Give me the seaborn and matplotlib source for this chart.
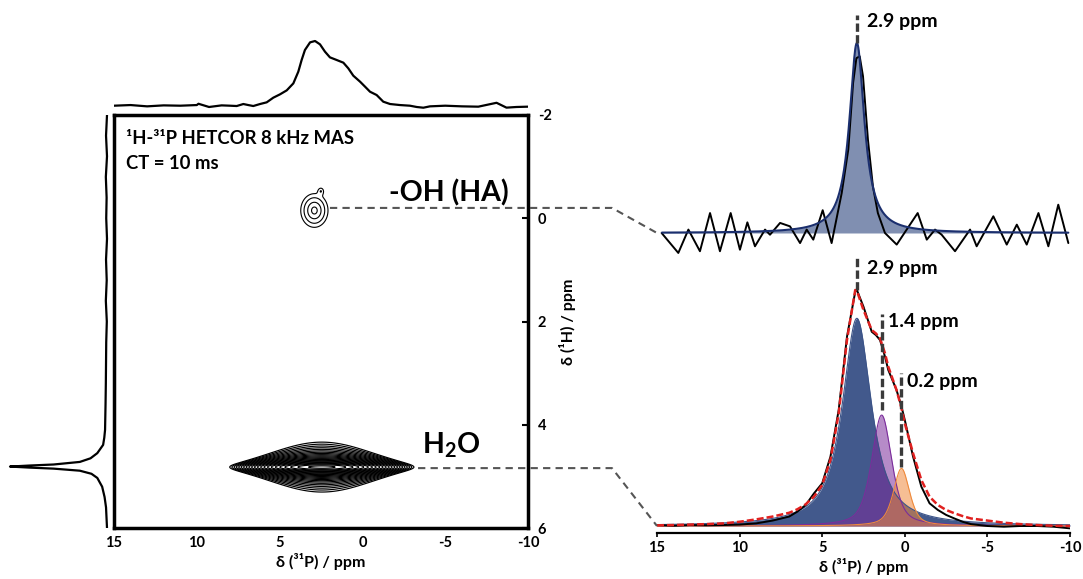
import numpy as np
import matplotlib
matplotlib.use("Agg")
import matplotlib.pyplot as plt
from matplotlib.lines import Line2D
import seaborn as sns

# 31P projection on top of the 2D map (ppm, relative intensity)
p31_proj_ppm = [15, 14, 13, 12, 11, 10, 9.9, 9.26, 8.5, 8.0, 7.59, 7.19, 6.89, 6.59, 6.18,
                5.78, 5.38, 4.98, 4.57, 4.17, 3.87, 3.67, 3.47, 3.16, 2.86, 2.56, 2.26, 1.96,
                1.55, 1.15, 0.85, 0.55, 0.14, -0.16, -0.46, -0.86, -1.26, -1.67, -2.27, -2.87,
                -3.28, -3.68, -4.08, -5, -6, -7, -8.1, -8.7, -9.3, -10]
p31_proj_int = [0.0, 0.01, -0.01, 0.005, 0.0, 0.01, 0.03, -0.02, 0.005, 0.0, -0.005, 0.026,
                0.01, -0.005, 0.026, 0.052, 0.124, 0.175, 0.237, 0.345, 0.526, 0.706, 0.861,
                0.979, 1.0, 0.948, 0.835, 0.747, 0.706, 0.665, 0.577, 0.464, 0.371, 0.294,
                0.216, 0.165, 0.062, 0.026, 0.01, 0.0, -0.02, -0.031, -0.01, 0.0, -0.01,
                -0.015, 0.045, -0.03, -0.02, -0.015]

# 1H projection on the left of the 2D map
h1_proj_ppm = [-2.0, -1.6, -1.2, -0.8, -0.4, 0.0, 0.4, 0.8, 1.2, 1.6, 2.0, 2.4, 2.8, 3.2, 3.6,
               3.9, 4.1, 4.25, 4.39, 4.55, 4.65, 4.72, 4.77, 4.79, 4.81, 4.83, 4.85, 4.89,
               4.95, 5.03, 5.2, 5.4, 5.6, 5.8, 6.0]
h1_proj_int = [0.0, 0.01, 0.0, 0.012, 0.004, 0.008, 0.0, 0.01, 0.003, 0.012, 0.002, 0.008,
               0.01, 0.012, 0.015, 0.018, 0.02, 0.028, 0.04, 0.10, 0.17, 0.28, 0.55, 0.8, 1.0,
               0.8, 0.55, 0.28, 0.16, 0.10, 0.05, 0.025, 0.01, 0.005, 0.0]

# cross peaks: (31P centre, 1H centre, 31P width, 1H width)
oh_peak = (2.9, -0.15, 0.53, 0.21)
oh_side = (2.5, -0.53, 0.13, 0.05, 0.36)
h2o_peak = (2.45, 4.82, 2.1, 0.085)
oh_levels = [0.3, 0.5, 0.75, 0.95]

# slice at 1H = -0.1 ppm (-OH of HA)
oh_row_ppm = [14.72, 13.71, 13.10, 12.40, 11.79, 11.19, 10.54, 9.98, 9.53, 9.07, 8.46, 8.16,
              7.55, 6.95, 6.34, 5.94, 5.54, 4.97, 4.43, 3.82, 3.42, 3.13, 2.93, 2.73, 2.53,
              2.23, 1.93, 1.63, 1.20, 0.49, -0.78, -1.33, -1.83, -2.23, -3.04, -3.95, -4.35,
              -5.36, -6.17, -6.78, -7.38, -8.09, -8.69, -9.29, -9.90]
oh_row_int = [0.0, -0.105, 0.018, -0.096, 0.105, -0.096, 0.105, -0.088, 0.056, -0.070, 0.018,
              -0.009, 0.053, 0.035, -0.053, 0.018, -0.035, 0.12, -0.053, 0.21, 0.44, 0.79,
              0.92, 0.93, 0.825, 0.49, 0.245, 0.105, 0.0, -0.061, 0.105, -0.035, 0.018,
              -0.009, -0.096, 0.018, -0.07, 0.088, -0.061, 0.044, -0.061, 0.105, -0.07,
              0.149, -0.053]
oh_fit = (2.9, 1.0, 0.55, 1.0)  # centre, height, hwhm, lorentzian fraction

# slice at 1H = 4.8 ppm (H2O)
h2o_row_ppm = [15, 14, 13, 12, 11, 10, 9, 8, 7, 6.5, 6, 5.5, 5, 4.5, 4, 3.5, 3, 2.9, 2.5, 2,
               1.75, 1.5, 1.2, 1, 0.5, 0.2, 0, -0.5, -1, -1.5, -2, -2.5, -3, -3.5, -4, -5,
               -6, -7, -8, -9, -10]
h2o_row_exp = [0.004, 0.001, 0.004, 0.003, 0.004, 0.006, 0.011, 0.023, 0.040, 0.061, 0.089,
               0.138, 0.181, 0.294, 0.492, 0.802, 0.993, 1.0, 0.929, 0.823, 0.809, 0.788,
               0.718, 0.661, 0.576, 0.506, 0.449, 0.294, 0.167, 0.096, 0.068, 0.047, 0.032,
               0.018, 0.008, 0.0, -0.003, 0.0, 0.0, -0.003, -0.01]
h2o_row_sum = [0.003, 0.004, 0.006, 0.008, 0.011, 0.018, 0.028, 0.040, 0.056, 0.071, 0.092,
               0.124, 0.174, 0.28, 0.477, 0.788, 1.0, 0.997, 0.915, 0.83, 0.816, 0.795,
               0.732, 0.675, 0.576, 0.499, 0.435, 0.308, 0.195, 0.124, 0.089, 0.068, 0.054,
               0.042, 0.032, 0.023, 0.014, 0.008, 0.004, 0.001, 0.0]
fit_centers = [2.9, 1.4, 0.2]
fit_heights = [0.88, 0.47, 0.244]
fit_hwhm = [1.05, 0.72, 0.58]
fit_eta = [0.9, 0.55, 0.55]
fit_labels = ["2.9 ppm", "1.4 ppm", "0.2 ppm"]
fit_colors = ["#3c5488", "#7b2d9b", "#ef8a3c"]
fit_alpha = [0.97, 0.55, 0.55]

x_ticks = [15, 10, 5, 0, -5, -10]
y_ticks = [-2, 0, 2, 4, 6]

sns.set_style("white")
plt.rcParams['font.family'] = ['Lato', 'DejaVu Sans']
plt.rcParams['font.weight'] = 'bold'
plt.rcParams['axes.labelweight'] = 'bold'
plt.rcParams['text.color'] = 'black'
plt.rcParams['axes.labelcolor'] = 'black'
plt.rcParams['axes.unicode_minus'] = False
plt.rcParams['mathtext.fontset'] = 'custom'
plt.rcParams['mathtext.rm'] = 'Lato:bold'
plt.rcParams['mathtext.it'] = 'Lato:bold'
plt.rcParams['mathtext.bf'] = 'Lato:bold'

W, H = 1083, 579
fig = plt.figure(figsize=(W / 100, H / 100), dpi=100)


def box(x0, y0, x1, y1):
    return [x0 / W, 1 - y1 / H, (x1 - x0) / W, (y1 - y0) / H]


def pvoigt(x, c, h, w, eta):
    lor = 1 / (1 + ((x - c) / w) ** 2)
    gau = np.exp(-np.log(2) * ((x - c) / w) ** 2)
    return h * (eta * lor + (1 - eta) * gau)


# ---- 2D HETCOR map
ax = fig.add_axes(box(114, 115, 528, 528))
ax.set_facecolor("none")
p_axis = np.linspace(-10, 15, 1251)
h_axis = np.linspace(-2, 6, 1601)
P, Hm = np.meshgrid(p_axis, h_axis)
z_h2o = np.exp(-(P - h2o_peak[0]) ** 2 / (2 * h2o_peak[2] ** 2)) / (1 + ((Hm - h2o_peak[1]) / h2o_peak[3]) ** 2)
z_oh = np.exp(-(P - oh_peak[0]) ** 2 / (2 * oh_peak[2] ** 2) - (Hm - oh_peak[1]) ** 2 / (2 * oh_peak[3] ** 2))
z_oh += oh_side[4] * np.exp(-(P - oh_side[0]) ** 2 / (2 * oh_side[2] ** 2) - (Hm - oh_side[1]) ** 2 / (2 * oh_side[3] ** 2))
ax.contour(P, Hm, z_h2o, levels=np.geomspace(0.03, 0.93, 22), colors="black", linewidths=0.85)
ax.contour(P, Hm, z_oh, levels=oh_levels, colors="black", linewidths=0.8)
ax.set_xlim(15, -10)
ax.set_ylim(6, -2)
ax.set_xticks(x_ticks)
ax.set_yticks(y_ticks)
ax.yaxis.tick_right()
ax.yaxis.set_label_position("right")
ax.tick_params(axis="x", direction="in", length=4, width=1.5, pad=6, labelsize=10.5, colors="black")
ax.tick_params(axis="y", direction="in", length=4, width=1.5, pad=7, labelsize=10.5, colors="black",
               right=True, left=False)
for s in ax.spines.values():
    s.set_linewidth(2.5)
    s.set_color("black")
ax.set_xlabel("δ (³¹P) / ppm", fontsize=11.5, labelpad=2)
ax.set_ylabel("δ (¹H) / ppm", fontsize=11.5, labelpad=5, rotation=90)
ax.text(14.28, -1.44, "¹H-³¹P HETCOR 8 kHz MAS", fontsize=13.3, va="baseline", ha="left")
ax.text(14.28, -0.95, "CT = 10 ms", fontsize=13.3, va="baseline", ha="left")
ax.text(-8.8, -0.32, "-OH (HA)", fontsize=20.5, va="baseline", ha="right")
ax.text(-3.6, 4.55, r"H$_{2}$O", fontsize=20.5, va="baseline", ha="left")

# ---- projections
axp = fig.add_axes(box(114, 20, 528, 112))
axp.axis("off")
sns.lineplot(x=p31_proj_ppm, y=p31_proj_int, ax=axp, color="black", lw=1.6, sort=False, estimator=None)
axp.set_xlim(15, -10)
axp.set_ylim(-6.3 / 64.7, 85.7 / 64.7)

axh = fig.add_axes(box(0, 115, 112, 528))
axh.axis("off")
sns.lineplot(x=h1_proj_int, y=h1_proj_ppm, ax=axh, color="black", lw=1.6, sort=False, estimator=None)
axh.set_ylim(6, -2)
axh.set_xlim(107 / 97, -5 / 97)

# ---- OH slice
axt = fig.add_axes(box(657, 0, 1070, 260))
axt.axis("off")
xs = np.linspace(14.7, -9.9, 800)
fit_oh = pvoigt(xs, *oh_fit)
axt.fill_between(xs, 0, fit_oh, color="#3c5488", alpha=0.65, lw=0)
sns.lineplot(x=oh_row_ppm, y=oh_row_int, ax=axt, color="black", lw=1.4, sort=False, estimator=None)
axt.plot(xs, fit_oh, color="#1b2f6e", lw=1.5)
axt.set_xlim(15, -10)
axt.set_ylim(-27 / 190, 233 / 190)
axt.plot([oh_fit[0], oh_fit[0]], [1.0, 1.15], color="#3a3a3a", lw=2.4, ls=(0, (2.5, 1)))
axt.text(2.3, 1.112, "2.9 ppm", fontsize=14, va="center", ha="left")

# ---- H2O slice with deconvolution
axb = fig.add_axes(box(657, 250, 1070, 533))
axb.set_facecolor("none")
xb = np.linspace(15, -10, 1000)
for c, h, w, eta, col, a in zip(fit_centers, fit_heights, fit_hwhm, fit_eta, fit_colors, fit_alpha):
    yb = pvoigt(xb, c, h, w, eta)
    axb.fill_between(xb, 0, yb, color=col, alpha=a, lw=0)
    axb.plot(xb, yb, color=col, lw=0.8)
sns.lineplot(x=h2o_row_ppm, y=h2o_row_exp, ax=axb, color="black", lw=1.4, sort=False, estimator=None)
sns.lineplot(x=h2o_row_ppm, y=h2o_row_sum, ax=axb, color="#e0201f", lw=1.8, sort=False,
             estimator=None, linestyle=(0, (2.8, 1.2)))
axb.set_xlim(15, -10)
axb.set_ylim(-7 / 236, 276 / 236)
axb.set_xticks(x_ticks)
axb.set_yticks([])
for k in ["top", "left", "right"]:
    axb.spines[k].set_visible(False)
axb.spines["bottom"].set_linewidth(1.6)
axb.spines["bottom"].set_color("black")
axb.tick_params(axis="x", direction="out", length=3, width=1.2, pad=3, labelsize=10.5,
                colors="black", bottom=True)
axb.set_xlabel("δ (³¹P) / ppm", fontsize=11.5, labelpad=2)

mark_top = [1.15, 0.90, 0.65]
mark_bot = [1.0, 0.49, 0.25]
label_x = [2.3, 1.02, -0.11]
label_y = [1.093, 0.866, 0.611]
for c, t, b, lx, ly, lab in zip(fit_centers, mark_top, mark_bot, label_x, label_y, fit_labels):
    axb.plot([c, c], [b, t], color="#3a3a3a", lw=2.4, ls=(0, (2.5, 1)))
    axb.text(lx, ly, lab, fontsize=14, va="center", ha="left")

# ---- dashed connectors from the cross peaks to the slices
inv = fig.transFigure.inverted()


def fig_xy(axis, x, y):
    return inv.transform(axis.transData.transform((x, y)))


bend_x = 612 / W
for a_src, src, a_dst, dst in [(ax, (1.96, -0.2), axt, (15, 0)), (ax, (-3.36, 4.84), axb, (15, 0))]:
    s = fig_xy(a_src, *src)
    e = fig_xy(a_dst, *dst)
    fig.add_artist(Line2D([s[0], bend_x, e[0]], [s[1], s[1], e[1]], transform=fig.transFigure,
                          color="#555555", lw=1.5, ls=(0, (3.5, 2.5))))

fig.savefig("out.png", dpi=100)
